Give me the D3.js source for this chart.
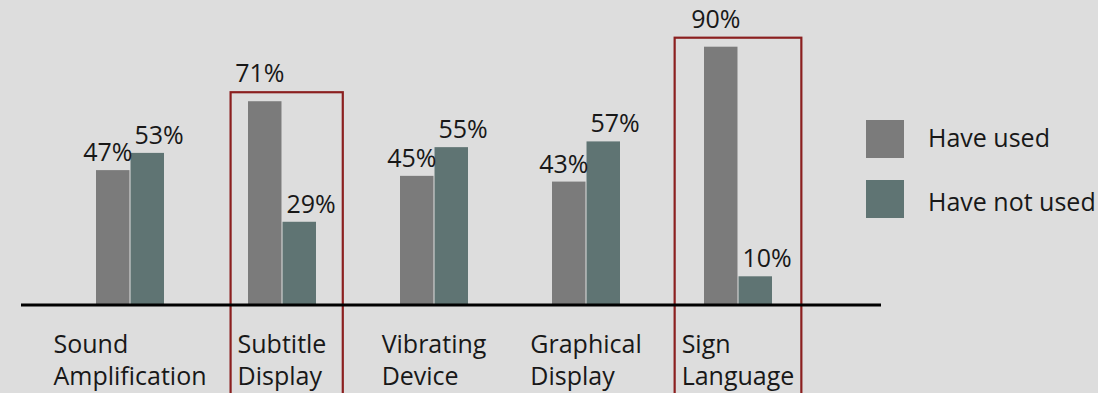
<!DOCTYPE html>
<html>
<head>
<meta charset="utf-8">
<script src="https://cdn.jsdelivr.net/npm/d3@7"></script>
<style>
  html, body { margin: 0; padding: 0; background: #dddddd; }
  svg { display: block; }
  text { font-family: "Open Sans", "Noto Sans", sans-serif; fill: #181818; }
</style>
</head>
<body>
<svg id="chart" width="1098" height="393"></svg>
<script>
// Survey results: share of respondents who have / have not used each aid
const categories = [
  ["Sound", "Amplification"],
  ["Subtitle", "Display"],
  ["Vibrating", "Device"],
  ["Graphical", "Display"],
  ["Sign", "Language"]
];
const series = ["Have used", "Have not used"];
const haveUsed    = [47, 71, 45, 43, 90];
const haveNotUsed = [53, 29, 55, 57, 10];
const highlighted = ["Subtitle Display", "Sign Language"];
const seriesColors = ["#7b7b7b", "#5f7473"];

const svg = d3.select("#chart");
const W = 1098, H = 393;
const baseY = 305;
const fontSize = 25;

const keys = categories.map(c => c.join(" "));
const rows = keys.map((k, i) => ({ key: k, lines: categories[i], values: [haveUsed[i], haveNotUsed[i]] }));

const x = d3.scaleBand().domain(keys).range([54, 814]).padding(0);
const xs = d3.scaleBand().domain(series).range([-34, 34]).paddingInner(0.03);
const y = d3.scaleLinear().domain([0, 100]).range([baseY, 18]);
const color = d3.scaleOrdinal().domain(series).range(seriesColors);

const center = k => x(k) + x.bandwidth() / 2;

const groups = svg.append("g").selectAll("g.group")
  .data(rows).join("g").attr("class", "group");

// Bars
groups.selectAll("rect.bar")
  .data(d => series.map((s, j) => ({ key: d.key, s, v: d.values[j] })))
  .join("rect")
  .attr("class", "bar")
  .attr("x", d => center(d.key) + xs(d.s))
  .attr("y", d => y(d.v))
  .attr("width", xs.bandwidth())
  .attr("height", d => y(0) - y(d.v))
  .attr("fill", d => color(d.s));

// Category labels: a left-aligned block centred under each group
groups.each(function (d) {
  const g = d3.select(this);
  const t = g.append("text").attr("class", "cat").style("font-size", fontSize + "px");
  t.selectAll("tspan").data(d.lines).join("tspan")
    .attr("dy", (l, i) => i === 0 ? 0 : 32)
    .text(l => l);
  const widths = [];
  t.selectAll("tspan").each(function () { widths.push(this.getComputedTextLength()); });
  const left = center(d.key) - d3.max(widths) / 2;
  t.attr("y", 353);
  t.selectAll("tspan").attr("x", left);
});

// Highlight frames around selected groups
const pad = 7;
groups.filter(d => highlighted.includes(d.key)).each(function (d) {
  const g = d3.select(this);
  d.boxTop = y(d3.max(d.values)) - 9;
  d.frame = g.append("rect").attr("class", "frame")
    .attr("fill", "none").attr("stroke", "#8b1f1f").attr("stroke-width", 2.2);
});

// Value labels
groups.selectAll("text.val")
  .data(d => series.map((s, j) => ({ row: d, key: d.key, s, j, v: d.values[j] })))
  .join("text")
  .attr("class", "val")
  .style("font-size", fontSize + "px")
  .attr("text-anchor", d => d.j === 0 ? "end" : "start")
  .attr("x", d => d.j === 0
    ? center(d.key) + xs(d.s) + xs.bandwidth() + 3
    : center(d.key) + xs(d.s) + 4)
  .attr("y", d => (d.row.boxTop !== undefined && d.v === d3.max(d.row.values))
    ? d.row.boxTop - 10
    : y(d.v) - 9)
  .text(d => d.v + "%");

// Size frames to the group's bars and labels
groups.filter(d => highlighted.includes(d.key)).each(function (d) {
  const g = d3.select(this);
  const lefts = [], rights = [];
  g.selectAll("text.cat").each(function () {
    const b = this.getBBox(); lefts.push(b.x); rights.push(b.x + b.width);
  });
  g.selectAll("text.val").each(function (v) {
    if (v.v !== d3.max(d.values)) { const b = this.getBBox(); rights.push(b.x + b.width); }
  });
  g.selectAll("rect.bar").each(function () {
    const b = this.getBBox(); lefts.push(b.x); rights.push(b.x + b.width);
  });
  const l = d3.min(lefts) - pad, r = d3.max(rights) + pad;
  d.frame.attr("x", l).attr("y", d.boxTop).attr("width", r - l).attr("height", H + 10 - d.boxTop);
});

// Baseline
svg.append("line")
  .attr("x1", 21).attr("x2", 881)
  .attr("y1", y(0)).attr("y2", y(0))
  .attr("stroke", "#000").attr("stroke-width", 3);

// Legend
const legend = svg.append("g").attr("class", "legend");
const items = legend.selectAll("g").data(series).join("g")
  .attr("transform", (d, i) => `translate(866, ${120 + i * 60})`);
items.append("rect")
  .attr("width", 38).attr("height", 38)
  .attr("fill", d => color(d));
items.append("text")
  .attr("x", 62).attr("y", (d, i) => 27 + i * 4)
  .style("font-size", fontSize + "px")
  .text(d => d);
</script>
</body>
</html>
